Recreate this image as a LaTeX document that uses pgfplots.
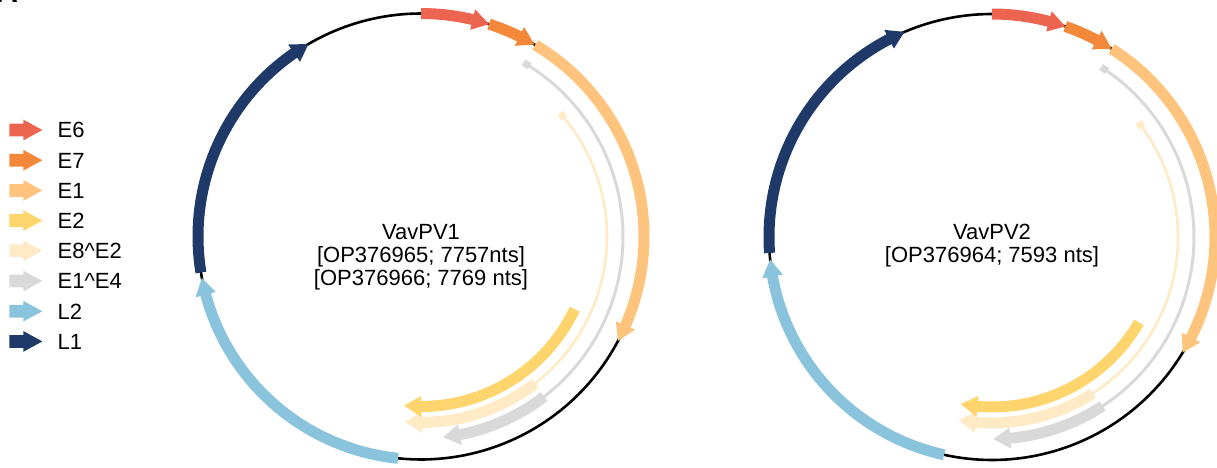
\documentclass[border=0pt]{standalone}
\usepackage{fontspec}
\setmainfont{Liberation Sans}
\usepackage{pgfplots}
\pgfplotsset{compat=1.18}
\usepgfplotslibrary{polar}

\definecolor{cE6}{RGB}{237,100,81}
\definecolor{cE7}{RGB}{243,136,58}
\definecolor{cE1}{RGB}{254,196,126}
\definecolor{cE2}{RGB}{254,212,108}
\definecolor{cE82}{RGB}{254,234,196}
\definecolor{cE14}{RGB}{217,217,217}
\definecolor{cL2}{RGB}{138,196,220}
\definecolor{cL1}{RGB}{31,58,104}

% color, width, radius, phi1, phi2
\newcommand{\arcplot}[5]{\addplot[draw=#1, line width=#2, domain=#4:#5, samples=90, data cs=polar, forget plot] {#3};}
% color, radius, rin, rout, phitip, phibase
\newcommand{\headplot}[6]{\addplot[fill=#1, draw=none, data cs=polar, forget plot] coordinates {(#5,#2) (#6,#4) (#6,#3)} --cycle;}
% color, phi1, phi2, rin, rout
\newcommand{\sqplot}[5]{\addplot[fill=#1, draw=none, data cs=polar, forget plot] coordinates {(#2,#4) (#3,#4) (#3,#5) (#2,#5)} --cycle;}

\pgfplotsset{
  genome/.style={x=0.5pt, y=0.5pt, xmin=-240, xmax=240, ymin=-240, ymax=240,
    hide axis, clip=false, enlargelimits=false, anchor=center},
}
\newcommand{\lbl}{\fontsize{11}{12.5}\selectfont}

\begin{document}
\begin{tikzpicture}
\useasboundingbox (0pt,0pt) rectangle (608.5pt,233.5pt);
\clip (0pt,0pt) rectangle (608.5pt,233.5pt);
\node[anchor=base west, font=\bfseries\fontsize{15}{15}\selectfont, inner sep=0pt] at (-2pt,232pt) {A};

\begin{axis}[genome, at={(210.5pt,115.25pt)},
  legend image code/.code={\fill[#1] (0pt,-3.2pt) -- (7pt,-3.2pt) -- (7pt,-5.2pt) -- (16.5pt,0pt) -- (7pt,5.2pt) -- (7pt,3.2pt) -- (0pt,3.2pt) -- cycle;},
  legend style={at={(-0.3577,0.7435)}, anchor=north west, draw=none, fill=none,
    inner sep=0pt, outer sep=0pt, row sep=4.7pt, column sep=7.7pt, font=\lbl,
    nodes={inner sep=0pt, text height=7.9pt, text depth=0pt}},
  legend cell align=left]
\addlegendimage{fill=cE6,draw=none}\addlegendentry{E6}
\addlegendimage{fill=cE7,draw=none}\addlegendentry{E7}
\addlegendimage{fill=cE1,draw=none}\addlegendentry{E1}
\addlegendimage{fill=cE2,draw=none}\addlegendentry{E2}
\addlegendimage{fill=cE82,draw=none}\addlegendentry{E8\textasciicircum E2}
\addlegendimage{fill=cE14,draw=none}\addlegendentry{E1\textasciicircum E4}
\addlegendimage{fill=cL2,draw=none}\addlegendentry{L2}
\addlegendimage{fill=cL1,draw=none}\addlegendentry{L1}

\addplot[black, line width=1.3pt, domain=0:360, samples=240, data cs=polar, forget plot] {223};
% E6, E7, E1
\arcplot{cE6}{5.5pt}{223}{76.3}{90}
\headplot{cE6}{223}{212.5}{233.5}{72.2}{76.6}
\arcplot{cE7}{5.5pt}{223}{63.5}{72.2}
\headplot{cE7}{223}{212.5}{233.5}{59.4}{63.8}
\arcplot{cE1}{5.5pt}{223}{-23.8}{59.2}
\headplot{cE1}{223}{212.5}{233.5}{-27.9}{-23.5}
% E1^E4
\arcplot{cE14}{1.5pt}{202}{-52.4}{58.5}
\sqplot{cE14}{57.5}{59.5}{198.5}{205.5}
\arcplot{cE14}{5.5pt}{202}{-79.2}{-52.4}
\headplot{cE14}{202}{191.5}{212.5}{-83.7}{-78.9}
% E8^E2
\arcplot{cE82}{1.3pt}{186}{-52.1}{40.6}
\sqplot{cE82}{39.6}{41.6}{182.5}{189.5}
\arcplot{cE82}{5.5pt}{186}{-90}{-52.1}
\headplot{cE82}{186}{175.5}{196.5}{-94.9}{-89.7}
% E2
\arcplot{cE2}{5.5pt}{170}{-90.3}{-25.3}
\headplot{cE2}{170}{159.5}{180.5}{-95.7}{-90}
% L2, L1
\arcplot{cL2}{5.5pt}{223}{-165.2}{-95.9}
\headplot{cL2}{223}{212.5}{233.5}{-169.3}{-164.9}
\arcplot{cL1}{5.5pt}{223}{-235.6}{-170.7}
\headplot{cL1}{223}{212.5}{233.5}{-239.7}{-235.3}

\node[anchor=base, font=\lbl, inner sep=0pt] at (axis cs:0,-3) {VavPV1};
\node[anchor=base, font=\lbl, inner sep=0pt] at (axis cs:0,-26) {[OP376965; 7757nts]};
\node[anchor=base, font=\lbl, inner sep=0pt] at (axis cs:0,-49) {[OP376966; 7769 nts]};
\end{axis}

\begin{axis}[genome, at={(496pt,115pt)}]
\addplot[black, line width=1.3pt, domain=0:360, samples=240, data cs=polar, forget plot] {223};
\arcplot{cE6}{5.5pt}{223}{74.9}{90}
\headplot{cE6}{223}{212.5}{233.5}{70.8}{75.2}
\arcplot{cE7}{5.5pt}{223}{61.7}{70.8}
\headplot{cE7}{223}{212.5}{233.5}{57.6}{62.0}
\arcplot{cE1}{5.5pt}{223}{-27.1}{57.6}
\headplot{cE1}{223}{212.5}{233.5}{-31.2}{-26.8}
\arcplot{cE14}{1.5pt}{202}{-56.8}{56.3}
\sqplot{cE14}{55.3}{57.3}{198.5}{205.5}
\arcplot{cE14}{5.5pt}{202}{-85.1}{-56.8}
\headplot{cE14}{202}{191.5}{212.5}{-89.6}{-84.8}
\arcplot{cE82}{1.3pt}{186}{-57.3}{37.1}
\sqplot{cE82}{36.1}{38.1}{182.5}{189.5}
\arcplot{cE82}{5.5pt}{186}{-95.4}{-57.3}
\headplot{cE82}{186}{175.5}{196.5}{-100.3}{-95.1}
\arcplot{cE2}{5.5pt}{170}{-95.2}{-30.2}
\headplot{cE2}{170}{159.5}{180.5}{-100.6}{-94.9}
\arcplot{cL2}{5.5pt}{223}{-170.1}{-102.4}
\headplot{cL2}{223}{212.5}{233.5}{-174.2}{-169.8}
\arcplot{cL1}{5.5pt}{223}{-242.8}{-175.9}
\headplot{cL1}{223}{212.5}{233.5}{-246.9}{-242.5}

\node[anchor=base, font=\lbl, inner sep=0pt] at (axis cs:0,-2.5) {VavPV2};
\node[anchor=base, font=\lbl, inner sep=0pt] at (axis cs:0,-25.5) {[OP376964; 7593 nts]};
\end{axis}
\end{tikzpicture}
\end{document}
